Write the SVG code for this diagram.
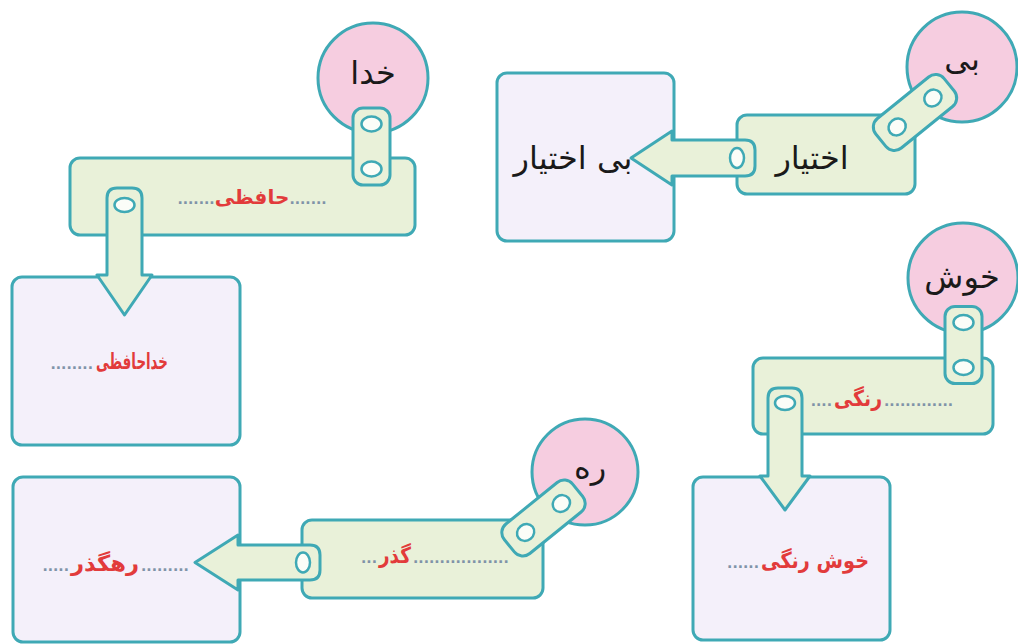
<svg xmlns="http://www.w3.org/2000/svg" width="1018" height="644" viewBox="0 0 1018 644">
<style>
.bg{fill:#ffffff}
.circ{fill:#f6cde0;stroke:#3fa9b5;stroke-width:3}
.bar{fill:#e9f1d9;stroke:#3fa9b5;stroke-width:3}
.box{fill:#f4f0fa;stroke:#3fa9b5;stroke-width:3}
.tab{fill:#e9f1d9;stroke:#3fa9b5;stroke-width:3;stroke-linejoin:round}
.hole{fill:#fbfdf8;stroke:#3fa9b5;stroke-width:2.5}
.blk{font-family:"DejaVu Sans",sans-serif;font-size:32px;fill:#1a1a1a;text-anchor:middle}
.red{font-family:"DejaVu Sans",sans-serif;font-size:22px;font-weight:bold;fill:#e23b3b;text-anchor:middle}
.dots{font-family:"DejaVu Sans",sans-serif;font-size:14px;font-weight:bold;fill:#7f93a8}
.dl{text-anchor:end}
.dr{text-anchor:start}
.mix{font-family:"DejaVu Sans",sans-serif;font-size:14px;font-weight:bold;fill:#7f93a8;text-anchor:middle}
.rw{font-size:20px;fill:#e23b3b}
</style>
<rect class="bg" x="0" y="0" width="1018" height="644"/>

<!-- Group 1: khoda -->
<g id="circle-khoda">
<circle class="circ" cx="373" cy="78" r="55"/>
<text class="blk" x="373" y="84" direction="rtl">خدا</text>
</g>
<g id="bar-hafezi">
<rect class="bar" x="70" y="158" width="345" height="77" rx="10"/>
<text class="mix" x="252" y="204" direction="rtl">.......<tspan class="rw">حافظی</tspan>.......</text>
</g>
<g id="box-khodahafezi">
<rect class="box" x="12" y="277" width="228" height="168" rx="10"/>
<text class="dots dl" x="93" y="369">........</text>
<text class="red" x="132" y="369" direction="rtl" textLength="72" lengthAdjust="spacingAndGlyphs">خداحافظی</text>
</g>

<!-- Group 2: bi -->
<g id="circle-bi">
<circle class="circ" cx="962" cy="67" r="55"/>
<text class="blk" x="962" y="70" font-size="36" direction="rtl">بی</text>
</g>
<g id="bar-ekhtiar">
<rect class="bar" x="737" y="115" width="178" height="79" rx="10"/>
<text class="blk" x="812" y="169" direction="rtl">اختیار</text>
</g>
<g id="box-biekhtiar">
<rect class="box" x="497" y="73" width="177" height="168" rx="10"/>
<text class="blk" x="573" y="169" font-size="31" direction="rtl">بی اختیار</text>
</g>

<!-- Group 3: khosh -->
<g id="circle-khosh">
<circle class="circ" cx="963" cy="278" r="55"/>
<text class="blk" x="962" y="288" font-size="38" direction="rtl">خوش</text>
</g>
<g id="bar-rangi">
<rect class="bar" x="753" y="358" width="240" height="76" rx="10"/>
<text class="dots dl" x="832" y="406">....</text>
<text class="red" x="858" y="406" direction="rtl" textLength="48" lengthAdjust="spacingAndGlyphs">رنگی</text>
<text class="dots dr" x="884" y="406">.............</text>
</g>
<g id="box-khoshrangi">
<rect class="box" x="693" y="477" width="197" height="163" rx="10"/>
<text class="dots dl" x="759" y="568">......</text>
<text class="red" x="815" y="568" direction="rtl" textLength="108" lengthAdjust="spacingAndGlyphs">خوش رنگی</text>
</g>

<!-- Group 4: rah -->
<g id="circle-rah">
<circle class="circ" cx="585" cy="472" r="53"/>
<text class="blk" x="590" y="478" font-size="26" direction="rtl">ره</text>
</g>
<g id="bar-gozar">
<rect class="bar" x="302" y="520" width="241" height="78" rx="10"/>
<text class="dots dl" x="377" y="563">...</text>
<text class="red" x="395" y="563" direction="rtl" textLength="32" lengthAdjust="spacingAndGlyphs">گذر</text>
<text class="dots dr" x="413" y="563">..................</text>
</g>
<g id="box-rahgozar">
<rect class="box" x="13" y="477" width="227" height="165" rx="10"/>
<text class="dots dl" x="69" y="571">.....</text>
<text class="red" x="105" y="571" direction="rtl" textLength="68" lengthAdjust="spacingAndGlyphs">رهگذر</text>
<text class="dots dr" x="141" y="571">.........</text>
</g>

<!-- Connectors -->
<g id="connectors">
<g transform="translate(371.5,146.5)">
<rect class="tab" x="-18.5" y="-38.5" width="37" height="77" rx="10"/>
<ellipse class="hole" cx="0" cy="-22.5" rx="10" ry="7.5"/>
<ellipse class="hole" cx="0" cy="22.5" rx="10" ry="7.5"/>
</g>
<g transform="translate(915,112.5) rotate(-39)">
<rect class="tab" x="-44" y="-19" width="88" height="38" rx="11"/>
<ellipse class="hole" cx="-23" cy="0" rx="9" ry="8"/>
<ellipse class="hole" cx="23" cy="0" rx="9" ry="8"/>
</g>
<g transform="translate(963.5,345)">
<rect class="tab" x="-18.5" y="-38.5" width="37" height="77" rx="10"/>
<ellipse class="hole" cx="0" cy="-22.5" rx="10" ry="7.5"/>
<ellipse class="hole" cx="0" cy="22.5" rx="10" ry="7.5"/>
</g>
<g transform="translate(543.5,518) rotate(-39)">
<rect class="tab" x="-44" y="-19" width="88" height="38" rx="11"/>
<ellipse class="hole" cx="-23" cy="0" rx="9" ry="8"/>
<ellipse class="hole" cx="23" cy="0" rx="9" ry="8"/>
</g>
<path class="tab" d="M107 198 Q107 188 117 188 L132 188 Q142 188 142 198 L142 275 L152 275 L124.5 315 L97 275 L107 275 Z"/>
<ellipse class="hole" cx="124.5" cy="205" rx="10" ry="7"/>
<path class="tab" d="M745 140 Q755 140 755 150 L755 166 Q755 176 745 176 L672 176 L672 185 L631 158 L672 131 L672 140 Z"/>
<ellipse class="hole" cx="737" cy="158" rx="7" ry="10"/>
<path class="tab" d="M768 398 Q768 388 778 388 L792 388 Q802 388 802 398 L802 476 L810 476 L785 510 L760 476 L768 476 Z"/>
<ellipse class="hole" cx="785" cy="403" rx="10" ry="7"/>
<path class="tab" d="M310 545 Q320 545 320 555 L320 570 Q320 580 310 580 L238 580 L238 590 L195 562.5 L238 535 L238 545 Z"/>
<ellipse class="hole" cx="303" cy="562.5" rx="7" ry="10"/>
</g>
</svg>
